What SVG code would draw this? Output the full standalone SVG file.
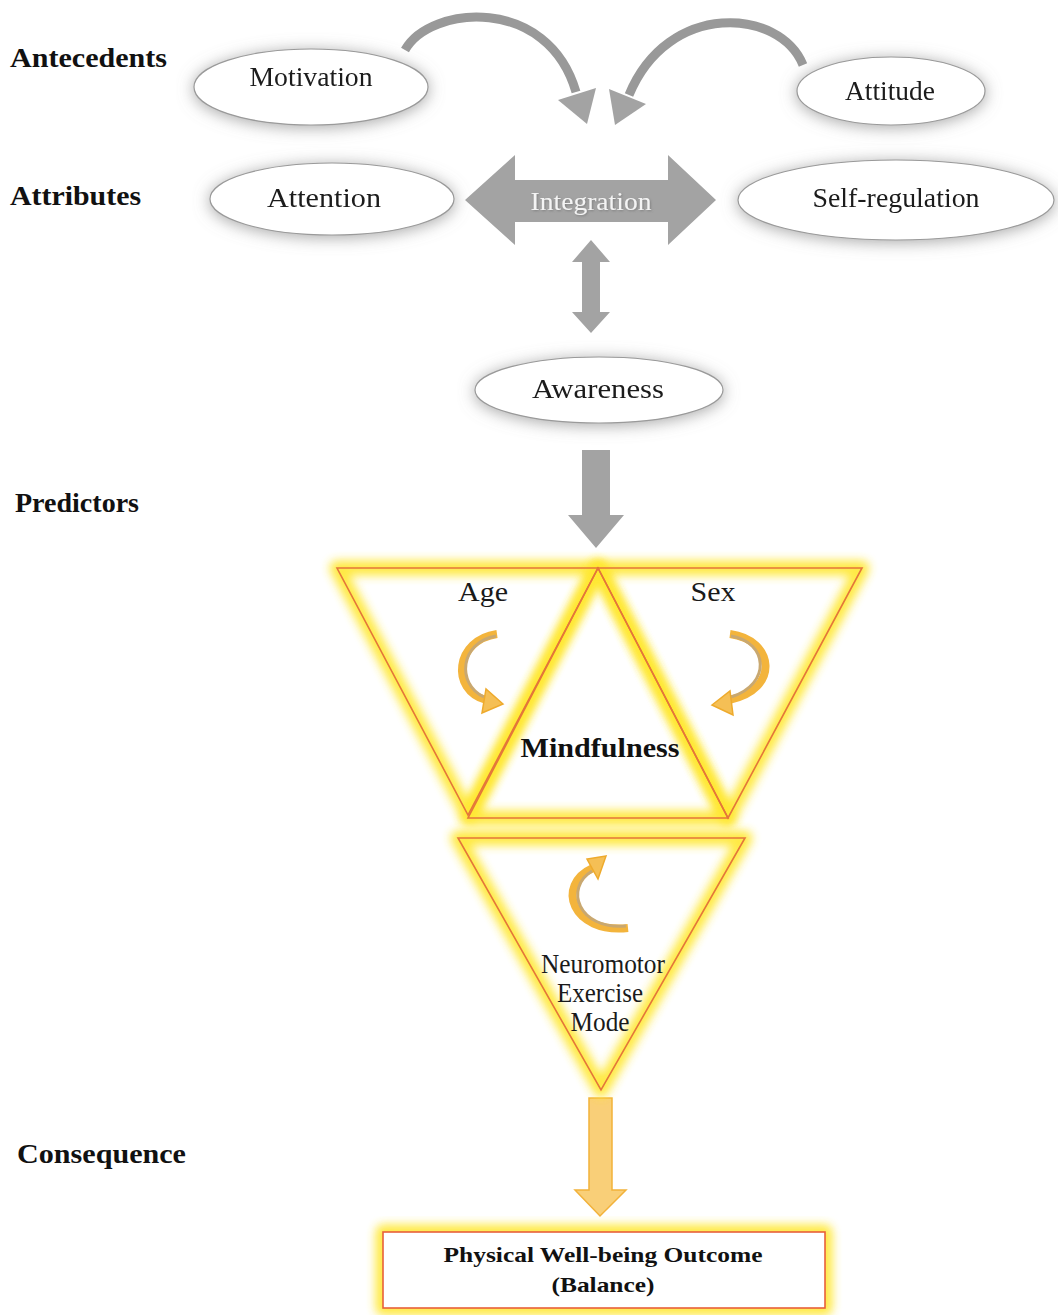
<svg xmlns="http://www.w3.org/2000/svg" width="1058" height="1315" viewBox="0 0 1058 1315">
<defs>
<filter id="shadow" x="-30%" y="-60%" width="160%" height="220%">
<feGaussianBlur in="SourceAlpha" stdDeviation="8" result="b"/>
<feOffset dx="0" dy="2" result="o"/>
<feFlood flood-color="#8a8a8a" flood-opacity="0.75"/>
<feComposite in2="o" operator="in" result="s"/>
<feMerge><feMergeNode in="s"/><feMergeNode in="SourceGraphic"/></feMerge>
</filter>
<filter id="glow" x="-20%" y="-20%" width="140%" height="140%">
<feGaussianBlur stdDeviation="5"/>
</filter>
<filter id="tshadow" x="-10%" y="-30%" width="120%" height="160%">
<feGaussianBlur in="SourceAlpha" stdDeviation="1"/>
<feOffset dx="1" dy="1" result="o"/>
<feFlood flood-color="#666" flood-opacity="0.6"/>
<feComposite in2="o" operator="in" result="s"/>
<feMerge><feMergeNode in="s"/><feMergeNode in="SourceGraphic"/></feMerge>
</filter>
</defs>
<style>
.lbl{font-family:"Liberation Serif","Times New Roman",serif;font-weight:bold;font-size:28px;fill:#111}
.t{font-family:"Liberation Serif","Times New Roman",serif;font-size:27px;fill:#1a1a1a;text-anchor:middle}
.ell{fill:#fff;stroke:#9a9a9a;stroke-width:1.2}
.gray{fill:#a3a3a3}
.glowl{fill:none;stroke:#ffe72e;stroke-width:15;stroke-linejoin:round;filter:url(#glow);opacity:0.9}
.edge{fill:none;stroke:#e4763a;stroke-width:1.6;stroke-linejoin:miter}
.oarc{fill:none;stroke:#f3b43c;stroke-width:8;stroke-linecap:butt}
.oarcin{fill:none;stroke:#c9a870;stroke-width:3}
.ohead{fill:#f5bf55;stroke:#eeaa2c;stroke-width:1.5}
</style>
<rect width="1058" height="1315" fill="#fff"/>

<g id="labels">
<text class="lbl" x="10" y="67" textLength="157" lengthAdjust="spacingAndGlyphs">Antecedents</text>
<text class="lbl" x="10" y="205" textLength="131" lengthAdjust="spacingAndGlyphs">Attributes</text>
<text class="lbl" x="15" y="512" textLength="124" lengthAdjust="spacingAndGlyphs">Predictors</text>
<text class="lbl" x="17" y="1163" textLength="169" lengthAdjust="spacingAndGlyphs">Consequence</text>
</g>

<g id="connectors">
<path d="M405,50 C430,5 548,-5 576,92" fill="none" stroke="#999" stroke-width="9"/>
<polygon class="gray" points="596,88 558,100 587,124"/>
<path d="M803,65 C780,8 668,0 629,95" fill="none" stroke="#999" stroke-width="9"/>
<polygon class="gray" points="646,104 609,89 615,125"/>
<polygon class="gray" points="591,240 610,262 600,262 600,312 610,312 591,333 572,312 582,312 582,262 572,262"/>
<polygon class="gray" points="582,450 610,450 610,515 624,515 596,548 568,515 582,515"/>
<polygon points="589,1098 612,1098 612,1190 626,1190 600,1216 575,1190 589,1190" fill="#f9cf78" stroke="#f2b23a" stroke-width="1.5"/>
</g>

<g id="motivation" filter="url(#shadow)">
<ellipse class="ell" cx="311" cy="87" rx="117" ry="38"/>
<text class="t" x="311" y="86" textLength="123" lengthAdjust="spacingAndGlyphs">Motivation</text>
</g>
<g id="attitude" filter="url(#shadow)">
<ellipse class="ell" cx="891" cy="91" rx="94" ry="34"/>
<text class="t" x="890" y="100" textLength="90" lengthAdjust="spacingAndGlyphs">Attitude</text>
</g>
<g id="attention" filter="url(#shadow)">
<ellipse class="ell" cx="332" cy="199" rx="122" ry="36"/>
<text class="t" x="324" y="207" textLength="114" lengthAdjust="spacingAndGlyphs">Attention</text>
</g>
<g id="integration">
<polygon class="gray" points="465,200 515,155 515,180 668,180 668,155 716,200 668,245 668,222 515,222 515,245"/>
<text x="591" y="210" text-anchor="middle" font-family="Liberation Serif, serif" font-size="25" fill="#f4f4f4" filter="url(#tshadow)" textLength="121" lengthAdjust="spacingAndGlyphs">Integration</text>
</g>
<g id="selfregulation" filter="url(#shadow)">
<ellipse class="ell" cx="896" cy="200" rx="158" ry="40"/>
<text class="t" x="896" y="207" textLength="167" lengthAdjust="spacingAndGlyphs">Self-regulation</text>
</g>
<g id="awareness" filter="url(#shadow)">
<ellipse class="ell" cx="599" cy="390" rx="124" ry="33"/>
<text class="t" x="598" y="398" textLength="132" lengthAdjust="spacingAndGlyphs">Awareness</text>
</g>

<g id="age">
<path d="M337,568 L598,568 L468,815 Z" fill="#fff"/>
</g>
<g id="sex">
<path d="M598,568 L862,568 L728,818 Z" fill="#fff"/>
</g>
<g id="mindfulness">
<path d="M598,568 L728,818 L468,818 Z" fill="#fff"/>
</g>
<g id="neuromotor">
<path d="M458,838 L745,838 L601,1090 Z" fill="#fff"/>
</g>

<g id="glows">
<path class="glowl" d="M337,568 L598,568 L468,815 Z"/>
<path class="glowl" d="M598,568 L862,568 L728,818 Z"/>
<path class="glowl" d="M598,568 L728,818 L468,818 Z"/>
<path class="glowl" d="M458,838 L745,838 L601,1090 Z"/>
<rect class="glowl" x="383" y="1232" width="442" height="76"/>
</g>

<g id="edges">
<path class="edge" d="M337,568 L598,568 L468,815 Z"/>
<path class="edge" d="M598,568 L862,568 L728,818 Z"/>
<path class="edge" d="M598,568 L728,818 L468,818 Z"/>
<path class="edge" d="M458,838 L745,838 L601,1090 Z"/>
</g>

<g id="age-label">
<text class="t" x="483" y="601" textLength="50" lengthAdjust="spacingAndGlyphs">Age</text>
<path class="oarc" d="M497,634 C455,640 450,690 486,700"/>
<path class="oarcin" d="M496,636 C460,642 456,684 484,697"/>
<polygon class="ohead" points="503,704 486,689 482,713"/>
</g>
<g id="sex-label">
<text class="t" x="713" y="601" textLength="45" lengthAdjust="spacingAndGlyphs">Sex</text>
<path class="oarc" d="M730,634 C775,640 780,690 729,700"/>
<path class="oarcin" d="M731,636 C768,642 772,684 731,697"/>
<polygon class="ohead" points="712,705 730,691 733,715"/>
</g>
<text x="600" y="757" text-anchor="middle" font-family="Liberation Serif, serif" font-weight="bold" font-size="28" fill="#111" textLength="159" lengthAdjust="spacingAndGlyphs">Mindfulness</text>
<g id="neuromotor-label">
<path class="oarc" d="M628,928 C572,934 555,885 593,868"/>
<path class="oarcin" d="M626,926 C578,930 564,888 592,871"/>
<polygon class="ohead" points="606,856 587,859 598,879"/>
<text class="t" x="603" y="973" font-size="23" textLength="124" lengthAdjust="spacingAndGlyphs">Neuromotor</text>
<text class="t" x="600" y="1002" font-size="23" textLength="86" lengthAdjust="spacingAndGlyphs">Exercise</text>
<text class="t" x="600" y="1031" font-size="23" textLength="59" lengthAdjust="spacingAndGlyphs">Mode</text>
</g>

<g id="outcome">
<rect x="383" y="1232" width="442" height="76" fill="#fff" stroke="#e8603a" stroke-width="1.6"/>
<text x="603" y="1262" text-anchor="middle" font-family="Liberation Serif, serif" font-weight="bold" font-size="22" fill="#111" textLength="319" lengthAdjust="spacingAndGlyphs">Physical Well-being Outcome</text>
<text x="603" y="1292" text-anchor="middle" font-family="Liberation Serif, serif" font-weight="bold" font-size="22" fill="#111" textLength="103" lengthAdjust="spacingAndGlyphs">(Balance)</text>
</g>
</svg>
